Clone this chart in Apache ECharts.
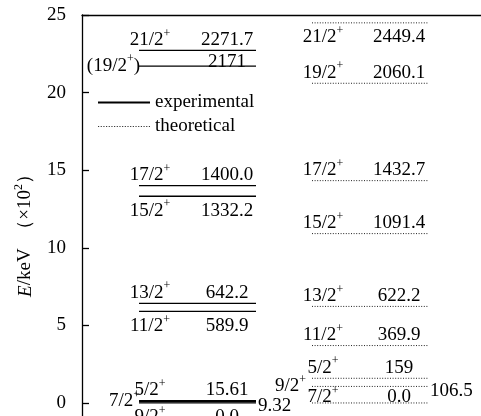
<!DOCTYPE html>
<html><head><meta charset="utf-8">
<script src="https://cdn.jsdelivr.net/npm/echarts@6/dist/echarts.min.js"></script>
<style>html,body{margin:0;padding:0;background:#fff}#c{width:481px;height:416px}</style>
</head><body><div id="c"></div>
<script>
// ---- data ----
const expSpin   = ['21/2+', '(19/2+)', '17/2+', '15/2+', '13/2+', '11/2+', '5/2+', '7/2+', '9/2+'];
const expEnergy = ['2271.7', '2171', '1400.0', '1332.2', '642.2', '589.9', '15.61', '9.32', '0.0'];
const theoSpin   = ['21/2+', '19/2+', '17/2+', '15/2+', '13/2+', '11/2+', '5/2+', '9/2+', '7/2+'];
const theoEnergy = ['2449.4', '2060.1', '1432.7', '1091.4', '622.2', '369.9', '159', '106.5', '0.0'];
const yTicks = [0, 5, 10, 15, 20, 25];
const seriesNames = ['experimental', 'theoretical'];

// ---- layout (label placement per level: [spin, energy]) ----
const expPlace  = [['t','t'],['l','t2'],['t','t'],['b','b'],['t','t'],['b','b'],['t','t'],['l','r'],['b','b']];
const theoPlace = [['b','b'],['t','t'],['t','t'],['t','t'],['t','t'],['t','t'],['t','t'],['l','r'],['t3','t3']];
const HALF_W = [58.5, 58];
const FONT = 'Liberation Serif';
const rich = {
  n: { fontFamily: FONT, fontSize: 19, lineHeight: 22, verticalAlign: 'bottom', fill: '#000' },
  s: { fontFamily: FONT, fontSize: 12, lineHeight: 12, verticalAlign: 'top', fill: '#000' }
};
function spinRich(s) { return '{n|' + s.replace('+', '}{s|+}{n|') + '}'; }

function mkData(energies, col) {
  return energies.map((e, i) => [col, parseFloat(e) / 100, i]);
}

function renderLevel(params, api) {
  const col = api.value(0), idx = api.value(2);
  const p = api.coord([col, api.value(1)]);
  const hw = HALF_W[col];
  const x1 = p[0] - hw, x2 = p[0] + hw, y = p[1];
  const spins = col === 0 ? expSpin : theoSpin;
  const ens = col === 0 ? expEnergy : theoEnergy;
  const place = (col === 0 ? expPlace : theoPlace)[idx];
  const dyMap = { t: -12, t2: -6, t3: -7, b: 13, l: -2, r: 3 };
  function txt(str, pos, isSpin) {
    let x, align = 'center';
    if (pos === 'l') { x = isSpin ? x1 + (col === 0 ? 1 : -6) : x1; align = 'right'; }
    else if (pos === 'r') { x = x2 + 2; align = 'left'; }
    else { x = isSpin ? x1 + 11 : x2 - 29; }
    return { type: 'text', x: x, y: y + dyMap[pos],
      style: { text: isSpin ? spinRich(str) : '{n|' + str + '}', rich: rich,
               align: align, verticalAlign: 'middle' } };
  }
  const line = col === 0
    ? { type: 'line', shape: { x1, y1: y, x2, y2: y }, style: { stroke: '#000', lineWidth: 1.3 } }
    : { type: 'line', shape: { x1, y1: y, x2, y2: y }, style: { stroke: '#222', lineWidth: 1, lineDash: [1, 1.6] } };
  return { type: 'group', children: [line, txt(spins[idx], place[0], true), txt(ens[idx], place[1], false)] };
}

let dots = '';
for (let i = 0; i < 20; i++) dots += 'M' + (i * 3) + ',0h1.3v1h-1.3z';

const chart = echarts.init(document.getElementById('c'), null, { renderer: 'canvas' });
chart.setOption({
  animation: false,
  backgroundColor: '#fff',
  grid: { left: 82, right: 0, top: 15, bottom: 0, containLabel: false },
  xAxis: {
    type: 'value', position: 'top', min: -0.66957, max: 1.64348,
    axisLine: { show: true, onZero: false, lineStyle: { color: '#000', width: 1.3 } },
    axisTick: { show: false }, axisLabel: { show: false }, splitLine: { show: false }
  },
  yAxis: {
    type: 'value', min: -0.84, max: 25,
    axisLine: { show: true, onZero: false, lineStyle: { color: '#000', width: 1.3 } },
    axisTick: { show: true, inside: true, length: 7, customValues: yTicks, lineStyle: { color: '#000', width: 1.3 } },
    axisLabel: { fontFamily: FONT, fontSize: 19, color: '#000', margin: 16, customValues: yTicks },
    splitLine: { show: false }
  },
  legend: {
    orient: 'vertical', left: 98, top: 93, padding: 0, itemWidth: 52, itemHeight: 2, itemGap: 5,
    textStyle: { fontFamily: FONT, fontSize: 19, color: '#000' },
    data: [
      { name: seriesNames[0], icon: 'rect', itemStyle: { color: '#000' } },
      { name: seriesNames[1], icon: 'path://' + dots, itemStyle: { color: '#333' } }
    ]
  },
  graphic: [{
    type: 'text', x: 24, y: 231, rotation: Math.PI / 2,
    style: {
      text: '{i|E}{n|/keV  （×10}{s|2}{n|）}',
      rich: {
        i: { fontFamily: FONT, fontSize: 19, fontStyle: 'italic', lineHeight: 22, verticalAlign: 'bottom', fill: '#000' },
        n: rich.n, s: rich.s
      },
      align: 'center', verticalAlign: 'middle'
    }
  }],
  series: [
    { name: seriesNames[0], type: 'custom', renderItem: renderLevel, data: mkData(expEnergy, 0),
      itemStyle: { color: '#000' }, clip: false },
    { name: seriesNames[1], type: 'custom', renderItem: renderLevel, data: mkData(theoEnergy, 1),
      itemStyle: { color: '#333' }, clip: false }
  ]
});
</script></body></html>
